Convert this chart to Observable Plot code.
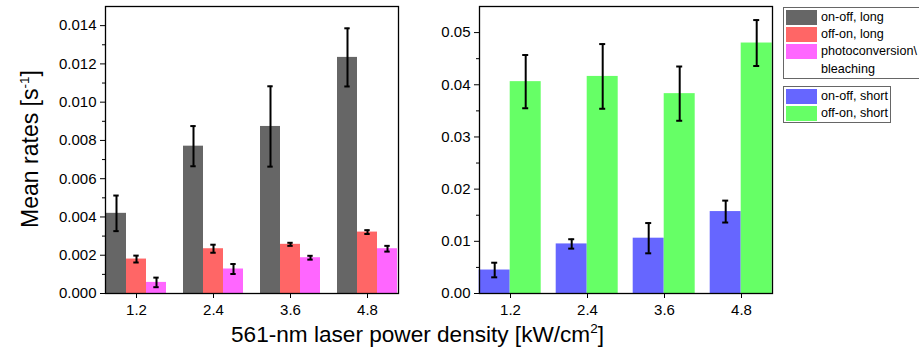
<!DOCTYPE html>
<html>
<head>
<meta charset="utf-8">
<script src="https://cdn.jsdelivr.net/npm/d3@7"></script>
<script src="https://cdn.jsdelivr.net/npm/@observablehq/plot@0.6"></script>
<style>
  html, body { margin: 0; padding: 0; background: #fff; }
  #wrap { position: relative; width: 919px; height: 352px; overflow: hidden; background: #fff;
          font-family: "Liberation Sans", Arial, sans-serif; color: #000; }
  .abs { position: absolute; }
  .legend { position: absolute; border: 1px solid #666; background: #fff; box-sizing: border-box; }
  .sw { position: absolute; width: 31px; height: 15px; box-sizing: border-box; }
  .lt { position: absolute; font-size: 12.6px; line-height: 15px; white-space: nowrap; }
  sup.s { font-size: 13.5px; vertical-align: 9px; line-height: 0; }
</style>
</head>
<body>
<div id="wrap"></div>
<script>
// ---------- data ----------
const powers = ["1.2", "2.4", "3.6", "4.8"];

const longSeries = ["on-off, long", "off-on, long", "photoconversion\\ bleaching"];
const longColors = ["#666666", "#FF6666", "#FF66FF"];
const onOffLong     = [0.00419, 0.00770, 0.00873, 0.01234];
const onOffLongErr  = [0.00093, 0.00105, 0.00210, 0.00152];
const offOnLong     = [0.00180, 0.00234, 0.00257, 0.00321];
const offOnLongErr  = [0.00018, 0.00021, 0.00008, 0.00010];
const photoconv     = [0.00058, 0.00128, 0.00187, 0.00234];
const photoconvErr  = [0.00025, 0.00026, 0.00010, 0.00015];

const shortSeries = ["on-off, short", "off-on, short"];
const shortColors = ["#6666FF", "#66FF66"];
const onOffShort    = [0.0045, 0.0095, 0.0106, 0.0157];
const onOffShortErr = [0.0014, 0.0009, 0.0029, 0.0021];
const offOnShort    = [0.0406, 0.0416, 0.0383, 0.0480];
const offOnShortErr = [0.0051, 0.0062, 0.0052, 0.0044];

const leftTicks  = [0, 0.002, 0.004, 0.006, 0.008, 0.010, 0.012, 0.014];
const leftMinor  = [0.001, 0.003, 0.005, 0.007, 0.009, 0.011, 0.013];
const rightTicks = [0, 0.01, 0.02, 0.03, 0.04, 0.05];
const rightMinor = [0.005, 0.015, 0.025, 0.035, 0.045];

const yTitle = "Mean rates [s<sup class='s'>-1</sup>]";
const xTitle = "561-nm laser power density [kW/cm<sup class='s'>2</sup>]";

// ---------- build ----------
function rowsOf(series, vals, errs) {
  const rows = [];
  series.forEach((s, i) => powers.forEach((p, j) => {
    rows.push({power: p, series: s, value: vals[i][j], lo: vals[i][j] - errs[i][j], hi: vals[i][j] + errs[i][j]});
  }));
  return rows;
}

function panel({series, colors, rows, yDomain, ticks, minor, fmt, width, marginLeft, marginRight, capInset}) {
  return Plot.plot({
    width, height: 323,
    marginLeft, marginRight, marginTop: 6, marginBottom: 30,
    style: {fontFamily: "'Liberation Sans', Arial, sans-serif", fontSize: "15px", color: "#000", background: "#fff", overflow: "visible"},
    fx: {domain: powers, paddingInner: 0.2, paddingOuter: 0.1, label: null},
    x: {domain: series, padding: 0, axis: null},
    y: {domain: yDomain, label: null},
    color: {domain: series, range: colors},
    marks: [
      Plot.barY(rows, {fx: "power", x: "series", y: "value", fill: "series"}),
      Plot.ruleX(rows, {fx: "power", x: "series", y1: "lo", y2: "hi", stroke: "#000", strokeWidth: 2}),
      Plot.tickY(rows, {fx: "power", x: "series", y: "lo", stroke: "#000", strokeWidth: 2, insetLeft: capInset, insetRight: capInset}),
      Plot.tickY(rows, {fx: "power", x: "series", y: "hi", stroke: "#000", strokeWidth: 2, insetLeft: capInset, insetRight: capInset}),
      Plot.axisY({ticks: minor, tickSize: 3, tickFormat: () => "", label: null, stroke: "#000"}),
      Plot.axisY({ticks: ticks, tickSize: 5, tickPadding: 4, tickFormat: fmt, label: null, stroke: "#000"}),
      Plot.axisFx({anchor: "bottom", tickSize: 5, tickPadding: 5.5, label: null, stroke: "#000"}),
      Plot.frame({facet: "super", stroke: "#000", strokeWidth: 1.3})
    ]
  });
}

const wrap = document.getElementById("wrap");

const left = panel({
  series: longSeries, colors: longColors,
  rows: rowsOf(longSeries, [onOffLong, offOnLong, photoconv], [onOffLongErr, offOnLongErr, photoconvErr]),
  yDomain: [0, 0.015], ticks: leftTicks, minor: leftMinor, fmt: d3.format(".3f"),
  width: 420, marginLeft: 96, marginRight: 14, capInset: 7.3
});
left.style.position = "absolute"; left.style.left = "0px"; left.style.top = "0px";
wrap.appendChild(left);

const right = panel({
  series: shortSeries, colors: shortColors,
  rows: rowsOf(shortSeries, [onOffShort, offOnShort], [onOffShortErr, offOnShortErr]),
  yDomain: [0, 0.055], ticks: rightTicks, minor: rightMinor, fmt: d3.format(".2f"),
  width: 362, marginLeft: 49.3, marginRight: 1, capInset: 12.5
});
right.style.position = "absolute"; right.style.left = "420px"; right.style.top = "0px";
wrap.appendChild(right);

// titles
const yt = document.createElement("div");
yt.className = "abs";
yt.innerHTML = yTitle;
Object.assign(yt.style, {left: "29.5px", top: "148.5px", fontSize: "23px", lineHeight: "23px", whiteSpace: "nowrap",
  transform: "translate(-50%,-50%) rotate(-90deg)"});
wrap.appendChild(yt);

const xt = document.createElement("div");
xt.className = "abs";
xt.innerHTML = xTitle;
Object.assign(xt.style, {left: "417.5px", top: "323.5px", fontSize: "22.6px", lineHeight: "22.6px", whiteSpace: "nowrap",
  transform: "translateX(-50%)"});
wrap.appendChild(xt);

// legends
function legend(series, colors, left, top, width, height, pitch) {
  const box = document.createElement("div");
  box.className = "legend";
  Object.assign(box.style, {left: left + "px", top: top + "px", width: width + "px", height: height + "px"});
  series.forEach((s, i) => {
    const sw = document.createElement("div");
    sw.className = "sw";
    Object.assign(sw.style, {left: "2px", top: (1.5 + i * pitch) + "px", background: colors[i]});
    box.appendChild(sw);
    const parts = s.split("\\ ");
    parts.forEach((t, k) => {
      const lt = document.createElement("div");
      lt.className = "lt";
      lt.textContent = k < parts.length - 1 ? t + "\\" : t;
      Object.assign(lt.style, {left: "37px", top: (1.5 + (i + k) * pitch) + "px"});
      box.appendChild(lt);
    });
  });
  wrap.appendChild(box);
}
legend(longSeries, longColors, 783, 7, 150, 71.5, 17.4);
legend(shortSeries, shortColors, 783, 86, 108, 37, 17);
</script>
</body>
</html>
